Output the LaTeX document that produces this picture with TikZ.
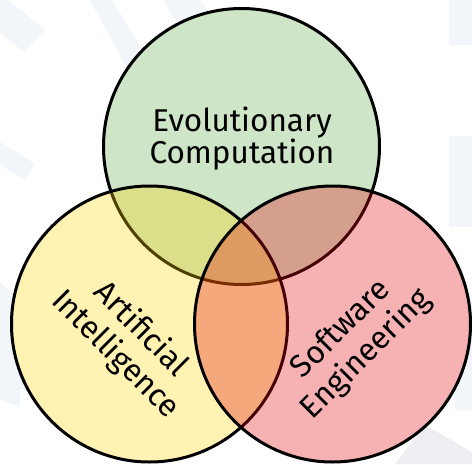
\documentclass[tikz,border=0pt]{standalone}
\usepackage{fontspec}
\setmainfont{Fira Sans}
\definecolor{bgstripe}{RGB}{242,245,249}
\definecolor{bggray}{RGB}{237,238,241}
\definecolor{evogreen}{RGB}{95,172,72}
\definecolor{aiyellow}{RGB}{255,212,0}
\definecolor{sered}{RGB}{228,0,5}
\begin{document}
\begin{tikzpicture}[x=1pt,y=-1pt,
  setdisc/.style={draw=black, line width=3pt, fill opacity=0.3},
  setlabel/.style={align=center, text=black, inner sep=0pt},
  labelfont/.style={font=\fontsize{31.5}{#1}\selectfont}]
\useasboundingbox (0,0) rectangle (472,464);
\fill[white] (0,0) rectangle (472,464);

% faint backdrop stripes
\fill[bgstripe] (-10,-15) -- (45,30) -- (24,52) -- (-30,8) -- cycle;
\fill[bgstripe] (90,0) -- (112,0) -- (150,62) -- (126,66) -- cycle;
\fill[bgstripe] (163,0) -- (200,0) -- (214,18) -- (182,30) -- cycle;
\fill[bgstripe] (0,142) -- (35,164) -- (25,180) -- (0,164) -- cycle;
\fill[bgstripe] (0,283) -- (20,300) -- (20,407) -- (0,400) -- cycle;
\fill[bgstripe] (0,360) -- (57,385) -- (50,400) -- (0,380) -- cycle;
\fill[bgstripe] (449,0) rectangle (472,45);
\fill[bgstripe] (449,136) rectangle (472,227);
\fill[bgstripe] (455,300) rectangle (472,410);
\fill[bggray] (395,464) -- (425,425) -- (472,452) -- (472,464) -- cycle;

% opaque white under each set so the backdrop stays out of the discs
\foreach \cx/\cy in {241.5/146.5, 149.5/324, 332.5/324}
  \fill[white] (\cx,\cy) circle[radius=138];

% the three sets, translucent so the overlaps mix
\path[setdisc, fill=evogreen] (241.5,146.5) coordinate (cevo) circle[radius=138];
\path[setdisc, fill=aiyellow] (149.5,324) coordinate (cai) circle[radius=138];
\path[setdisc, fill=sered] (332.5,324) coordinate (cse) circle[radius=138];

% set labels
\node[setlabel, labelfont=32] (evo) at (242,139) {Evolutionary\\Computation};
\node[setlabel, labelfont=36, rotate=-45] (ai) at (128,342) {Artificial\\Intelligence};
\node[setlabel, labelfont=36, rotate=45] (se) at (354,342) {Software\\Engineering};
\end{tikzpicture}
\end{document}
